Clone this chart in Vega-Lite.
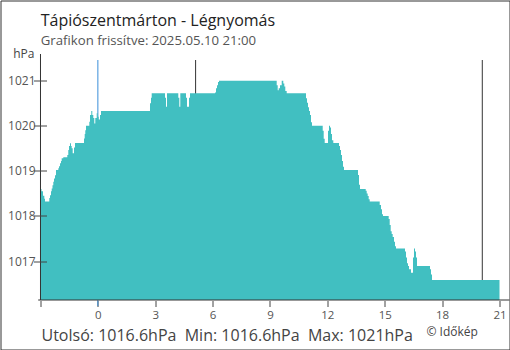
{
  "$schema": "https://vega.github.io/schema/vega-lite/v6.json",
  "width": 509,
  "height": 349,
  "autosize": "none",
  "padding": {"left": 0.5, "top": 0.5, "right": 0, "bottom": 0},
  "background": "white",
  "config": {
    "view": {"stroke": "#333333", "strokeWidth": 1},
    "font": "Open Sans"
  },
  "title": {
    "text": "Tápiószentmárton - Légnyomás",
    "subtitle": "Grafikon frissítve: 2025.05.10 21:00",
    "anchor": "start",
    "frame": "group",
    "orient": "top",
    "offset": -46.5,
    "dx": 40.2,
    "fontSize": 16,
    "fontWeight": "normal",
    "color": "#222222",
    "subtitleFontSize": 13.2,
    "subtitleColor": "#555555",
    "subtitlePadding": 6
  },
  "datasets": {
    "pressure": [
      {"h": -3.0, "p": 1018.6}, {"h": -2.948, "p": 1018.55}, {"h": -2.869, "p": 1018.45}, {"h": -2.801, "p": 1018.38},
      {"h": -2.765, "p": 1018.32}, {"h": -2.54, "p": 1018.4}, {"h": -2.503, "p": 1018.46}, {"h": -2.451, "p": 1018.55},
      {"h": -2.414, "p": 1018.61}, {"h": -2.373, "p": 1018.68}, {"h": -2.331, "p": 1018.76}, {"h": -2.294, "p": 1018.83},
      {"h": -2.242, "p": 1018.9}, {"h": -2.19, "p": 1019.02}, {"h": -2.069, "p": 1019.06}, {"h": -2.033, "p": 1019.1},
      {"h": -1.98, "p": 1019.17}, {"h": -1.928, "p": 1019.22}, {"h": -1.892, "p": 1019.28}, {"h": -1.808, "p": 1019.3},
      {"h": -1.599, "p": 1019.35}, {"h": -1.547, "p": 1019.46}, {"h": -1.51, "p": 1019.55}, {"h": -1.458, "p": 1019.61},
      {"h": -1.406, "p": 1019.55}, {"h": -1.369, "p": 1019.5}, {"h": -1.317, "p": 1019.39}, {"h": -1.248, "p": 1019.52},
      {"h": -1.196, "p": 1019.62}, {"h": -0.725, "p": 1019.72}, {"h": -0.689, "p": 1019.82}, {"h": -0.658, "p": 1019.9},
      {"h": -0.621, "p": 1020.0}, {"h": -0.448, "p": 1020.09}, {"h": -0.412, "p": 1020.24}, {"h": -0.344, "p": 1020.33},
      {"h": -0.292, "p": 1020.24}, {"h": -0.239, "p": 1020.17}, {"h": -0.187, "p": 1020.05}, {"h": -0.135, "p": 1020.17},
      {"h": -0.061, "p": 1020.28}, {"h": -0.009, "p": 1020.2}, {"h": 0.043, "p": 1020.14}, {"h": 0.111, "p": 1020.24},
      {"h": 0.163, "p": 1020.33}, {"h": 2.725, "p": 1020.5}, {"h": 2.778, "p": 1020.62}, {"h": 2.814, "p": 1020.72},
      {"h": 3.51, "p": 1020.62}, {"h": 3.562, "p": 1020.42}, {"h": 3.614, "p": 1020.72},
      {"h": 4.205, "p": 1020.62}, {"h": 4.258, "p": 1020.42}, {"h": 4.31, "p": 1020.72},
      {"h": 4.608, "p": 1020.62}, {"h": 4.66, "p": 1020.42}, {"h": 4.765, "p": 1020.62}, {"h": 4.817, "p": 1020.72},
      {"h": 6.124, "p": 1020.74}, {"h": 6.176, "p": 1020.83}, {"h": 6.229, "p": 1020.9}, {"h": 6.281, "p": 1020.97},
      {"h": 6.333, "p": 1021.0}, {"h": 9.35, "p": 1020.9}, {"h": 9.403, "p": 1020.79}, {"h": 9.455, "p": 1020.83},
      {"h": 9.523, "p": 1020.9}, {"h": 9.612, "p": 1021.0}, {"h": 9.695, "p": 1020.94}, {"h": 9.748, "p": 1020.87},
      {"h": 9.8, "p": 1020.77}, {"h": 9.873, "p": 1020.72}, {"h": 10.882, "p": 1020.61}, {"h": 10.935, "p": 1020.51},
      {"h": 10.987, "p": 1020.41}, {"h": 11.039, "p": 1020.33}, {"h": 11.092, "p": 1020.24}, {"h": 11.144, "p": 1020.08},
      {"h": 11.196, "p": 1020.0}, {"h": 11.756, "p": 1019.89}, {"h": 11.808, "p": 1019.71}, {"h": 11.86, "p": 1019.62},
      {"h": 12.033, "p": 1019.89}, {"h": 12.085, "p": 1020.0}, {"h": 12.137, "p": 1019.96}, {"h": 12.19, "p": 1019.82},
      {"h": 12.242, "p": 1019.68}, {"h": 12.31, "p": 1019.62}, {"h": 12.608, "p": 1019.55}, {"h": 12.66, "p": 1019.46},
      {"h": 12.712, "p": 1019.35}, {"h": 12.765, "p": 1019.22}, {"h": 12.817, "p": 1019.09}, {"h": 12.869, "p": 1019.02},
      {"h": 13.601, "p": 1018.91}, {"h": 13.654, "p": 1018.69}, {"h": 13.706, "p": 1018.6}, {"h": 14.004, "p": 1018.56},
      {"h": 14.056, "p": 1018.5}, {"h": 14.108, "p": 1018.44}, {"h": 14.16, "p": 1018.37}, {"h": 14.213, "p": 1018.32},
      {"h": 14.736, "p": 1018.24}, {"h": 14.804, "p": 1018.15}, {"h": 14.856, "p": 1018.04}, {"h": 14.908, "p": 1018.0},
      {"h": 15.206, "p": 1017.93}, {"h": 15.259, "p": 1017.8}, {"h": 15.311, "p": 1017.66}, {"h": 15.363, "p": 1017.6},
      {"h": 15.415, "p": 1017.53}, {"h": 15.484, "p": 1017.43}, {"h": 15.536, "p": 1017.33}, {"h": 15.588, "p": 1017.28},
      {"h": 16.059, "p": 1017.21}, {"h": 16.111, "p": 1017.08}, {"h": 16.163, "p": 1016.95}, {"h": 16.216, "p": 1016.89},
      {"h": 16.268, "p": 1016.82}, {"h": 16.372, "p": 1016.74}, {"h": 16.477, "p": 1017.08}, {"h": 16.529, "p": 1017.28},
      {"h": 16.582, "p": 1017.21}, {"h": 16.634, "p": 1017.08}, {"h": 16.686, "p": 1016.89}, {"h": 17.366, "p": 1016.82},
      {"h": 17.418, "p": 1016.7}, {"h": 17.471, "p": 1016.58}, {"h": 21.0, "p": 1016.58}
    ],
    "sun": [{"event": "napkelte", "h": 5.11}, {"event": "napnyugta", "h": 20.1}],
    "midnight": [{"event": "éjfél", "h": 0}]
  },
  "layer": [
    {
      "data": {"name": "sun"},
      "mark": {"type": "rule", "color": "#333333", "strokeWidth": 1},
      "encoding": {
        "x": {"field": "h", "type": "quantitative"},
        "y": {"datum": 1021.459, "type": "quantitative", "axis": null},
        "y2": {"datum": 1016.135}
      }
    },
    {
      "data": {"name": "midnight"},
      "mark": {"type": "rule", "color": "#3b8fd9", "strokeWidth": 1},
      "encoding": {
        "x": {"field": "h", "type": "quantitative"},
        "y": {
          "datum": 1021.459,
          "type": "quantitative",
          "axis": {
            "orient": "right",
            "domain": false,
            "ticks": false,
            "labels": false,
            "grid": false,
            "title": "© Időkép",
            "titleAngle": 0,
            "titleX": -83.5,
            "titleY": 334.5,
            "titleAlign": "left",
            "titleBaseline": "alphabetic",
            "titleFontSize": 12,
            "titleFontWeight": "normal",
            "titleColor": "#444444"
          }
        },
        "y2": {"datum": 1016.0}
      }
    },
    {
      "data": {"name": "pressure"},
      "mark": {"type": "area", "interpolate": "step-after", "color": "#41bfc1", "opacity": 1},
      "encoding": {
        "x": {
          "field": "h",
          "type": "quantitative",
          "scale": {"domain": [-5.0915, 21.5229], "nice": false, "zero": false},
          "axis": {
            "orient": "bottom",
            "values": [-3, 0, 3, 6, 9, 12, 15, 18, 21],
            "labelExpr": "datum.value == -3 ? '' : datum.label",
            "domain": false,
            "grid": false,
            "offset": -49,
            "tickSize": 6,
            "tickColor": "#444444",
            "labelColor": "#555555",
            "labelFontSize": 11.5,
            "labelPadding": 3,
            "labelFlush": false,
            "labelOverlap": false,
            "title": "Utolsó: 1016.6hPa\u00a0\u00a0Min: 1016.6hPa\u00a0\u00a0Max: 1021hPa",
            "titleX": 40.5,
            "titleY": 39.5,
            "titleAlign": "left",
            "titleAnchor": "start",
            "titleBaseline": "alphabetic",
            "titleFontSize": 16,
            "titleFontWeight": "normal",
            "titleColor": "#444444"
          }
        },
        "y": {
          "field": "p",
          "type": "quantitative",
          "scale": {"domain": [1015.037, 1022.779], "nice": false, "zero": false},
          "axis": {
            "orient": "left",
            "values": [1017, 1018, 1019, 1020, 1021],
            "format": "d",
            "domain": false,
            "grid": false,
            "offset": -46,
            "tickSize": 13,
            "tickColor": "#444444",
            "labelPadding": -1.5,
            "labelColor": "#555555",
            "labelFontSize": 12,
            "zindex": 1,
            "title": "hPa",
            "titleAngle": 0,
            "titleX": -33.8,
            "titleY": 56.8,
            "titleAlign": "left",
            "titleBaseline": "alphabetic",
            "titleFontSize": 12,
            "titleFontWeight": "normal",
            "titleColor": "#444444"
          }
        },
        "y2": {"datum": 1016.135}
      }
    },
    {
      "data": {"values": [{"axis": "y"}]},
      "mark": {"type": "rule", "color": "#333333", "strokeWidth": 1},
      "encoding": {
        "x": {"datum": -3, "type": "quantitative"},
        "y": {"datum": 1021.592, "type": "quantitative", "axis": null},
        "y2": {"datum": 1016.135}
      }
    },
    {
      "data": {"values": [{"axis": "x"}]},
      "mark": {"type": "rule", "color": "#333333", "strokeWidth": 1},
      "encoding": {
        "x": {"datum": -3.12, "type": "quantitative"},
        "x2": {"datum": 21.5229},
        "y": {"datum": 1016.135, "type": "quantitative", "axis": null}
      }
    }
  ],
  "resolve": {"axis": {"y": "independent"}}
}
